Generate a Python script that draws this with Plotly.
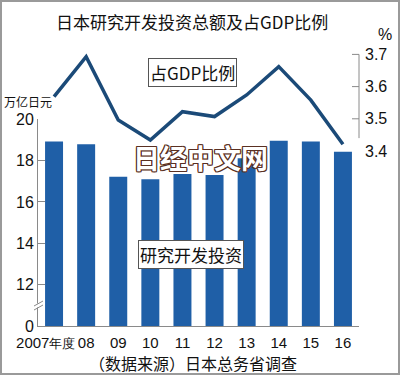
import plotly.graph_objects as go

years = ["2007年度", "08", "09", "10", "11", "12", "13", "14", "15", "16"]
rd_investment = [18.92, 18.79, 17.22, 17.10, 17.35, 17.31, 18.11, 18.96, 18.92, 18.43]  # 万亿日元
gdp_ratio = [3.569, 3.693, 3.496, 3.434, 3.522, 3.507, 3.574, 3.662, 3.558, 3.421]  # %
left_tickvals = [10, 12, 14, 16, 18, 20]
left_ticktext = ["0", "12", "14", "16", "18", "20"]
right_tickvals = [3.4, 3.5, 3.6, 3.7]
right_ticktext = ["3.4", "3.5", "3.6", "3.7"]

W, H = 400, 375
L, R, T, B = 38, 41, 45, 49
PW, PH = W - L - R, H - T - B

def px(x):
    return (x - L) / PW

def py(y):
    return (H - B - y) / PH

NUM_FONT = "Liberation Sans Narrow, Liberation Sans, Arial"
CJK_FONT = "Noto Sans CJK SC"
AX = "#8a8a8a"

# first label: smaller CJK suffix, nudged left as in the reference
x_ticktext = ["2007<span style='font-size:13px'>年度</span>" + "\u00a0" * 4] + years[1:]

fig = go.Figure()
fig.add_trace(go.Bar(x=years, y=rd_investment, marker=dict(color="#1f5fa7", line=dict(width=0)),
                     xaxis="x", yaxis="y", showlegend=False))
fig.add_trace(go.Scatter(x=years, y=gdp_ratio, mode="lines", line=dict(color="#1b4a78", width=3.5),
                         xaxis="x", yaxis="y2", showlegend=False))

fig.update_layout(
    width=W, height=H, margin=dict(l=L, r=R, t=T, b=B, autoexpand=False),
    paper_bgcolor="white", plot_bgcolor="rgba(0,0,0,0)",
    bargap=0.44,
    xaxis=dict(type="category", range=[-0.5, 9.5], showline=True, linecolor=AX, linewidth=1,
               ticks="", showgrid=False, zeroline=False, anchor="y", tickangle=0, automargin=False,
               tickvals=years, ticktext=x_ticktext, ticklabelstandoff=3,
               tickfont=dict(family=NUM_FONT, size=15, color="#111")),
    yaxis=dict(domain=[0, py(119.3)], range=[10, 20], tickvals=left_tickvals, ticktext=left_ticktext,
               showline=True, linecolor=AX, linewidth=1, ticks="inside", ticklen=7, tickcolor=AX,
               showgrid=False, zeroline=False, anchor="x", automargin=False,
               tickfont=dict(family=NUM_FONT, size=16, color="#111")),
    yaxis2=dict(domain=[py(160), 1], range=[3.4 - 9 / 322, 3.4 + 106 / 322], side="right", anchor="x",
                tickvals=right_tickvals, ticktext=right_ticktext, ticks="", showline=False,
                showgrid=False, zeroline=False, automargin=False, ticklabelstandoff=5,
                tickfont=dict(family=NUM_FONT, size=16, color="#111")),
)

shapes = []
# right axis line with ticks (no tick at 3.4)
tl = 7 / PW
shapes.append(dict(type="path", xref="paper", yref="y2",
                   path=f"M {1 - tl},3.7 L 1,3.7 L 1,3.44 M {1 - tl},3.6 L 1,3.6 M {1 - tl},3.5 L 1,3.5",
                   line=dict(color=AX, width=1)))
# axis break mark
shapes.append(dict(type="rect", xref="paper", yref="paper", x0=px(36), x1=px(41), y0=py(307.5), y1=py(303.5),
                   fillcolor="white", line=dict(width=0), layer="above"))
for dy in (0, 4):
    shapes.append(dict(type="line", xref="paper", yref="paper", x0=px(34), y0=py(306 + dy), x1=px(43),
                       y1=py(301 + dy), line=dict(color=AX, width=1), layer="above"))
# outer frame
shapes.append(dict(type="rect", xref="paper", yref="paper", x0=px(1), x1=px(399), y0=py(374), y1=py(1),
                   line=dict(color="#9a9a9a", width=2), fillcolor="rgba(0,0,0,0)", layer="above"))
fig.update_layout(shapes=shapes)

def note(text, x, y, size, family=CJK_FONT, **kw):
    return dict(text=text, x=px(x), y=py(y), xref="paper", yref="paper", showarrow=False,
                xanchor="center", yanchor="middle", font=dict(family=family, size=size, color="#111"), **kw)

ann = [
    note("日本研究开发投资总额及占GDP比例", 192, 21.5, 17),
    note("万亿日元", 28, 101, 12),
    note("%", 385, 34, 16, family=NUM_FONT),
    note("占GDP比例", 192, 72.5, 17, bgcolor="white", bordercolor="#555", borderwidth=1, borderpad=1),
    note("研究开发投资", 191, 254.5, 17, bgcolor="white", bordercolor="#555", borderwidth=1, borderpad=1),
    note("（数据来源）日本总务省调查", 193, 363, 16),
]
wm = note("<b>日经中文网</b>", 201, 157, 27)
oc = "#5a3022"
wm["font"] = dict(family=CJK_FONT, size=27, color="white",
                  shadow=", ".join(f"{a}px {b}px 0 {oc}" for a, b in
                                   [(1, 1), (-1, -1), (1, -1), (-1, 1), (0, 1), (1, 0), (0, -1), (-1, 0)]))
ann.append(wm)
fig.update_layout(annotations=ann)

fig.write_html("out.html", config={"displayModeBar": False},
               post_script="document.body.style.margin='0';document.body.style.overflow='hidden';")
